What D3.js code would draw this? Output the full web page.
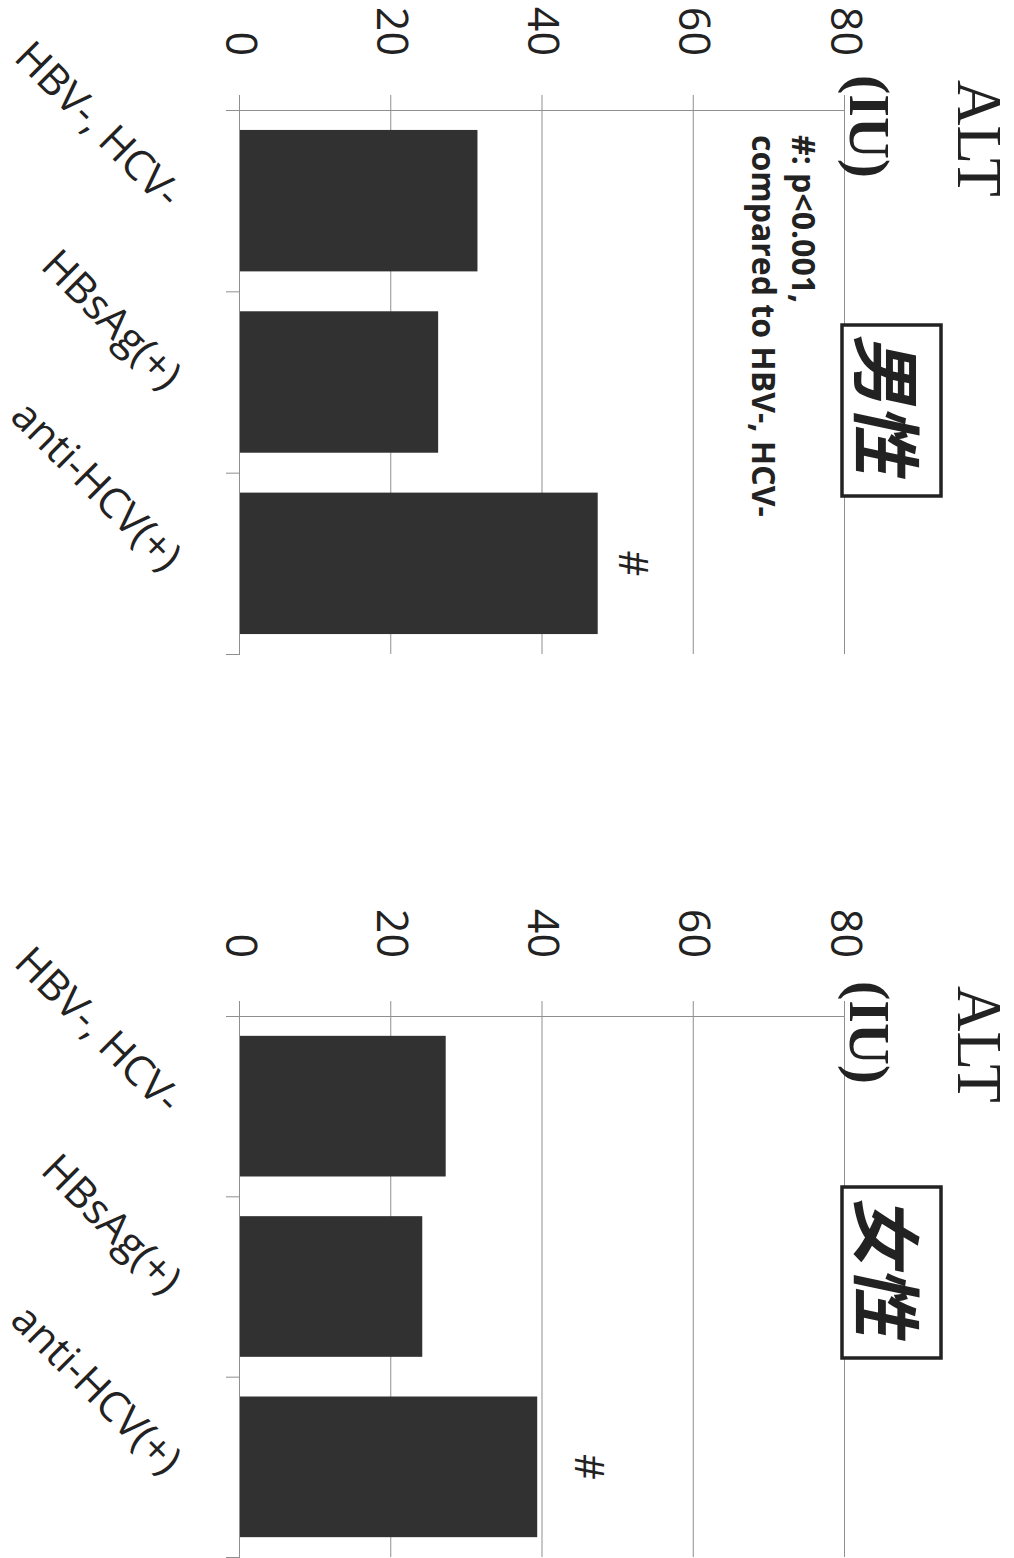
<!DOCTYPE html>
<html>
<head>
<meta charset="utf-8">
<script src="https://cdn.jsdelivr.net/npm/d3@7"></script>
<style>
body { margin: 0; background: #fff; }
</style>
</head>
<body>
<div id="chart"></div>
<script>
// values (ALT, IU)
var categories = ["HBV-, HCV-", "HBsAg(+)", "anti-HCV(+)"];
var maleALT = [31.4, 26.2, 47.3];
var femaleALT = [27.2, 24.1, 39.3];
var valueTicks = [0, 20, 40, 60, 80];
var sigMarks = ["", "", "#"];
var sexLabels = ["男性", "女性"];
var noteLines = ["#: p<0.001,", "compared to HBV-, HCV-"];
var titleText = "ALT";
var unitText = "(IU)";

var svgWidth = 1014, svgHeight = 1558;
var plotH = 605;   // value direction, horizontal once turned
var zeroX = 240;   // screen x of value 0

var sans = "'Open Sans', 'Noto Sans', sans-serif";
var serif = "'Liberation Serif', 'DejaVu Serif', serif";
var gridCol = "#8f8f8f";

// two panels, one per sex
var panels = [
    {values: maleALT, label: sexLabels[0], top: 110, bottom: 654, boxX: 215, sigGap: 37, labelGap: 54, note: true},
    {values: femaleALT, label: sexLabels[1], top: 1016, bottom: 1557, boxX: 171, sigGap: 53, labelGap: 58, note: false}
];

var svg = d3.select("#chart")
            .append("svg")
            .attr("width", svgWidth)
            .attr("height", svgHeight);

svg.append("rect")
    .attr("width", svgWidth)
    .attr("height", svgHeight)
    .attr("fill", "#fff");

panels.forEach(function(p) {
    var w = p.bottom - p.top;

    // draw the chart upright, then turn it 90deg clockwise like the page
    var g = svg.append("g")
               .attr("transform", `translate(${zeroX + plotH}, ${p.top}) rotate(90)`);

    var y = d3.scaleLinear().domain([0, 80]).range([plotH, 0]);
    var x = d3.scaleBand()
              .domain(categories)
              .range([0, w])
              .paddingInner(0.22)
              .paddingOuter(0.11);
    var xEdge = d3.scaleLinear().domain([0, categories.length]).range([0, w]);

    // value axis, ticks run on as gridlines
    var yAxis = g.append("g")
        .call(d3.axisLeft(y)
                .tickValues(valueTicks)
                .tickSize(15)
                .tickSizeOuter(0)
                .tickPadding(p.labelGap - 15));
    yAxis.selectAll(".tick line").attr("x1", w).attr("stroke", gridCol);
    yAxis.select(".domain").attr("stroke", gridCol);
    yAxis.selectAll(".tick text")
        .attr("font-family", sans)
        .attr("font-size", 43)
        .attr("fill", "#222");

    // bars
    g.selectAll(".bar")
        .data(p.values)
        .enter()
        .append("rect")
        .attr("class", "bar")
        .attr("x", (d, i) => x(categories[i]))
        .attr("width", x.bandwidth())
        .attr("y", d => y(d))
        .attr("height", d => plotH - y(d))
        .attr("fill", "#313131");

    // category axis with ticks between the groups
    var xAxis = g.append("g")
        .attr("transform", `translate(0, ${plotH})`)
        .call(d3.axisBottom(xEdge)
                .tickValues(d3.range(categories.length + 1))
                .tickSize(14)
                .tickSizeOuter(0)
                .tickFormat(""));
    xAxis.selectAll("line").attr("stroke", gridCol);
    xAxis.select(".domain").attr("stroke", gridCol);

    g.selectAll(".cat")
        .data(categories)
        .enter()
        .append("text")
        .attr("class", "cat")
        .attr("transform", d => `translate(${x(d) + x.bandwidth() / 2 + 10}, ${plotH + 76}) rotate(-45)`)
        .attr("text-anchor", "end")
        .attr("font-family", sans)
        .attr("font-size", 42)
        .attr("fill", "#222")
        .text(d => d);

    // significance marks
    g.selectAll(".sig")
        .data(p.values)
        .enter()
        .append("text")
        .attr("class", "sig")
        .attr("x", (d, i) => x(categories[i]) + x.bandwidth() / 2)
        .attr("y", d => y(d) - p.sigGap)
        .attr("text-anchor", "middle")
        .attr("dominant-baseline", "central")
        .attr("font-family", sans)
        .attr("font-size", 40)
        .attr("fill", "#222")
        .text((d, i) => sigMarks[i]);

    // title and unit
    g.append("text")
        .attr("x", -30)
        .attr("y", -113)
        .attr("font-family", serif)
        .attr("font-size", 63)
        .attr("fill", "#222")
        .text(titleText);

    g.append("text")
        .attr("x", -35)
        .attr("y", -5)
        .attr("font-family", serif)
        .attr("font-weight", "bold")
        .attr("font-size", 58)
        .attr("fill", "#222")
        .text(unitText);

    // boxed sex label
    g.append("rect")
        .attr("x", p.boxX)
        .attr("y", -96)
        .attr("width", 171)
        .attr("height", 99)
        .attr("fill", "#fff")
        .attr("stroke", "#222")
        .attr("stroke-width", 3.5);

    g.append("text")
        .attr("transform", `translate(${p.boxX + 85.5}, -46) skewX(-12)`)
        .attr("text-anchor", "middle")
        .attr("dominant-baseline", "central")
        .attr("font-family", "'Noto Sans CJK JP', sans-serif")
        .attr("font-weight", "bold")
        .attr("font-size", 70)
        .attr("fill", "#222")
        .text(p.label);

    if (p.note) {
        g.append("g")
            .selectAll("text")
            .data(noteLines)
            .enter()
            .append("text")
            .attr("x", 25)
            .attr("y", (d, i) => 53 + i * 40)
            .attr("font-family", sans)
            .attr("font-weight", "bold")
            .attr("font-size", 32)
            .attr("fill", "#222")
            .text(d => d);
    }
});
</script>
</body>
</html>
